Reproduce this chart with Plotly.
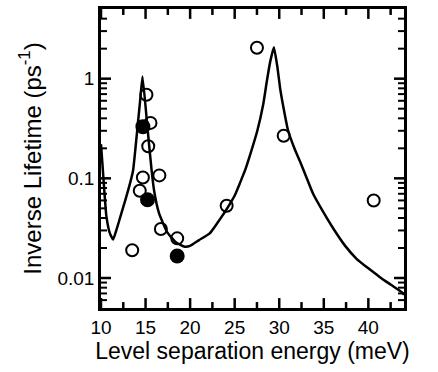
import plotly.graph_objects as go

# Fit curve
curve_x = [10.0, 10.24, 10.6, 11.0, 11.36, 11.74, 12.3, 13.05, 13.6, 13.84, 14.12, 14.38, 14.66,
           15.19, 15.46, 15.68, 15.95, 16.5, 17.4, 18.4, 19.4, 20.0, 21.0, 22.2, 23.0, 23.9,
           24.5, 25.03, 25.6, 26.16, 26.8, 27.54, 28.2, 28.6, 29.0, 29.4, 29.8, 30.1, 30.5,
           31.0, 31.8, 32.3, 33.0, 33.8, 35.0, 36.1, 37.4, 38.7, 40.0, 41.3, 42.5, 43.76, 44.0]
curve_y = [0.22, 0.11, 0.042, 0.028, 0.0243, 0.0305, 0.045, 0.076, 0.12, 0.19, 0.34, 0.59, 1.05,
           0.34, 0.19, 0.12, 0.076, 0.045, 0.029, 0.0228, 0.0206, 0.021, 0.024, 0.028, 0.035, 0.046,
           0.056, 0.068, 0.09, 0.12, 0.18, 0.30, 0.55, 0.93, 1.5, 2.07, 1.3, 0.80, 0.5,
           0.30, 0.19, 0.15, 0.105, 0.07, 0.045, 0.031, 0.021, 0.0155, 0.0125, 0.0102, 0.0086, 0.0072, 0.0068]

# Open circles
open_x = [15.1, 15.55, 15.3, 16.55, 14.7, 14.35, 16.72, 18.55, 13.5, 24.1, 27.5, 30.5, 40.6]
open_y = [0.69, 0.36, 0.21, 0.107, 0.102, 0.075, 0.031, 0.025, 0.019, 0.053, 2.04, 0.267, 0.060]

# Filled circles
filled_x = [14.7, 15.22, 18.55]
filled_y = [0.33, 0.061, 0.0166]

x_ticks = [10, 15, 20, 25, 30, 35, 40]
x_minor = [12.5, 17.5, 22.5, 27.5, 32.5, 37.5, 42.5]
y_ticks = [0.01, 0.1, 1]
y_ticktext = ["0.01", "0.1", "1"]
y_minor = [0.006, 0.007, 0.008, 0.009,
           0.02, 0.03, 0.04, 0.05, 0.06, 0.07, 0.08, 0.09,
           0.2, 0.3, 0.4, 0.5, 0.6, 0.7, 0.8, 0.9,
           2, 3, 4]

X_RANGE = [10, 44]
Y_RANGE = [-2.301, 0.699]

PW, PH = 303, 302
x_per_px = (X_RANGE[1] - X_RANGE[0]) / PW
dec_per_px = (Y_RANGE[1] - Y_RANGE[0]) / PH
y_lo, y_hi = 10 ** Y_RANGE[0], 10 ** Y_RANGE[1]

fig = go.Figure()
fig.add_trace(go.Scatter(x=curve_x, y=curve_y, mode="lines",
                         line=dict(color="black", width=2.5, shape="spline", smoothing=0.4),
                         showlegend=False))
fig.add_trace(go.Scatter(x=open_x, y=open_y, mode="markers",
                         marker=dict(symbol="circle-open", size=12, color="black",
                                     line=dict(width=2, color="black")),
                         showlegend=False))
fig.add_trace(go.Scatter(x=filled_x, y=filled_y, mode="markers",
                         marker=dict(symbol="circle", size=15, color="black",
                                     line=dict(width=0)),
                         showlegend=False))


def seg(xs, ys, w):
    fig.add_trace(go.Scatter(x=xs, y=ys, mode="lines", line=dict(color="black", width=w),
                             hoverinfo="skip", showlegend=False))


# inside tick marks on all four sides, one short segment per tick
for vals, L in ((x_ticks, 10), (x_minor, 6)):
    f = 10 ** (L * dec_per_px)
    for v in vals:
        seg([v, v], [y_lo, y_lo * f], 2.5)
        seg([v, v], [y_hi, y_hi / f], 2.5)
for vals, L, w in ((y_ticks, 10, 2.5), (y_minor, 6, 2)):
    d = L * x_per_px
    for v in vals:
        seg([X_RANGE[0], X_RANGE[0] + d], [v, v], w)
        seg([X_RANGE[1], X_RANGE[1] - d], [v, v], w)

font_fam = "Arial, Liberation Sans, sans-serif"
fig.update_layout(
    template="simple_white",
    width=438, height=372,
    margin=dict(l=101, r=34, t=6, b=64),
    paper_bgcolor="white", plot_bgcolor="white",
    font=dict(family=font_fam, color="black"),
    xaxis=dict(range=X_RANGE, tickmode="array", tickvals=x_ticks, ticks="",
               showline=True, linewidth=2.5, linecolor="black", mirror=True,
               showgrid=False, zeroline=False, tickfont=dict(size=19, color="black"),
               title=dict(text="Level separation energy (meV)", font=dict(size=23, color="black"),
                          standoff=4)),
    yaxis=dict(type="log", range=Y_RANGE, tickmode="array", tickvals=y_ticks,
               ticktext=y_ticktext, ticks="",
               showline=True, linewidth=2.5, linecolor="black", mirror=True,
               showgrid=False, zeroline=False, tickfont=dict(size=19, color="black"),
               title=dict(text="Inverse Lifetime (ps<sup>-1</sup>)", font=dict(size=24, color="black"),
                          standoff=10)),
)
fig.write_html("out.html", config={"displayModeBar": False},
               post_script="document.body.style.margin='0';")
